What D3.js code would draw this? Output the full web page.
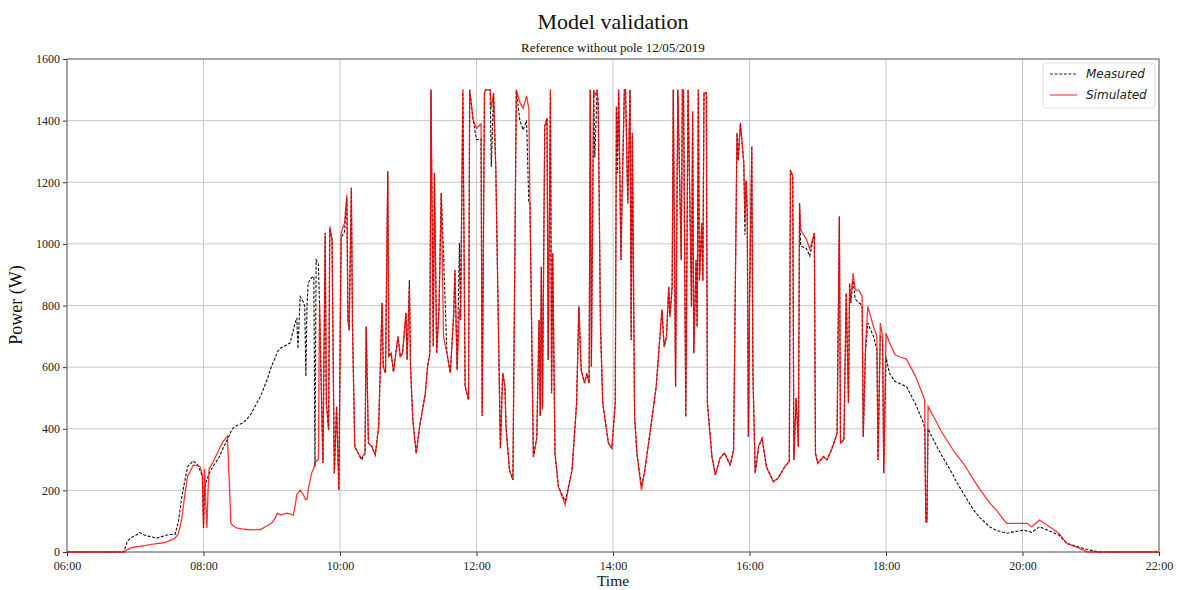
<!DOCTYPE html>
<html>
<head>
<meta charset="utf-8">
<script src="https://cdn.jsdelivr.net/npm/d3@7"></script>
<style>
  body { margin: 0; background: #fff; }
  svg { display: block; }
  .serif { font-family: "Liberation Serif", "DejaVu Serif", serif; }
</style>
</head>
<body>
<svg id="chart" width="1183" height="590"></svg>
<script>
// sample times (HH:MM), measured and simulated power (W)
const times = [
  '06:00','06:50','06:53','06:57','07:01','07:04','07:08','07:13','07:19','07:25','07:30','07:35','07:38','07:41','07:43','07:46','07:51','07:55','07:57','07:59',
  '08:00','08:01','08:02','08:03','08:04','08:05','08:08','08:14','08:17','08:21','08:23','08:24','08:26','08:29','08:34','08:38','08:42','08:50','08:56',
  '09:00','09:03','09:05','09:08','09:13','09:16','09:19','09:21','09:22','09:23','09:25','09:28','09:29','09:30','09:31','09:32','09:35','09:37','09:38','09:39','09:41',
  '09:42','09:45','09:47','09:48','09:50','09:51','09:53','09:55','09:57','09:59',
  '10:01','10:04','10:06','10:07','10:08','10:10','10:11','10:13','10:16','10:19','10:22','10:23','10:25','10:28','10:31','10:34','10:37','10:38','10:40','10:42','10:43','10:45','10:47','10:51','10:53','10:55','10:58','10:59',
  '11:01','11:02','11:04','11:07','11:10','11:15','11:17','11:19','11:20','11:22','11:23','11:25','11:27','11:29','11:31','11:34','11:37','11:40','11:41','11:43','11:45','11:46','11:48','11:50','11:53','11:54','11:57',
  '12:00','12:04','12:05','12:07','12:08','12:12','12:13','12:15','12:17','12:21','12:23','12:25','12:26','12:29','12:32','12:35','12:38','12:41','12:44','12:46','12:47','12:50','12:53','12:55','12:56','12:57','12:58',
  '13:00','13:02','13:03','13:05','13:06','13:07','13:09','13:12','13:18','13:24','13:28','13:30','13:32','13:35','13:37','13:39','13:40','13:41','13:43','13:44','13:46','13:47','13:49','13:51','13:56','13:59',
  '14:02','14:03','14:04','14:05','14:07','14:08','14:10','14:11','14:13','14:15','14:16','14:17','14:19','14:21','14:25','14:28','14:33','14:38','14:43','14:45','14:47','14:49','14:50','14:52','14:53','14:55','14:57',
  '15:00','15:01','15:02','15:04','15:06','15:09','15:10','15:11','15:13','15:14','15:15','15:16','15:18','15:19','15:20','15:22','15:23','15:27','15:30','15:34','15:38','15:43','15:46','15:49','15:50','15:52','15:55','15:56','15:57','15:58','15:59',
  '16:00','16:02','16:03','16:05','16:08','16:11','16:15','16:21','16:25','16:31','16:35','16:36','16:38','16:39','16:41','16:43','16:44','16:45','16:50','16:53','16:57','16:58',
  '17:00','17:05','17:08','17:12','17:17','17:19','17:20','17:23','17:25','17:27','17:28','17:29','17:31','17:33','17:36','17:39','17:40','17:42','17:44','17:49','17:52','17:53','17:55','17:57','17:58',
  '18:00','18:03','18:08','18:13','18:18','18:26','18:33','18:34','18:35','18:36','18:37','18:45','18:48','18:59',
  '19:01','19:08','19:17','19:23','19:31','19:37','19:46',
  '20:01','20:04','20:08','20:15','20:32','20:39','20:54','20:57',
  '21:04','21:06','22:00'
];

const measured = [
  0,0,35,48,55,63,55,50,45,52,57,57,100,180,220,277,296,282,265,245,
  78,200,224,235,245,255,275,310,335,365,380,390,402,410,418,430,450,504,560,
  605,630,650,662,672,678,720,750,760,660,829,810,797,571,800,873,890,894,277,948,935,
  800,289,1035,483,396,1050,1013,256,472,201,
  1020,1040,1150,753,720,1182,731,342,320,299,320,731,354,342,315,407,808,602,581,1235,634,645,585,699,634,645,776,624,
  883,602,429,320,407,515,602,645,1500,667,1230,645,786,1165,970,645,581,776,915,591,1003,753,1500,537,494,1500,1403,
  1338,1340,441,1490,1500,1500,1250,1490,1240,337,581,537,403,266,234,1500,1403,1370,1400,1132,1132,309,370,753,441,926,463,
  1381,1408,623,1500,515,970,320,212,165,266,483,797,591,548,580,548,1500,602,1500,1280,1500,1450,731,483,353,337,
  483,1446,1230,1500,948,1160,1500,1500,1132,1500,688,1359,439,320,215,266,400,537,786,666,699,861,764,861,1500,537,1500,
  948,1500,1500,439,1500,797,1430,645,948,731,1500,880,1067,880,1490,1490,483,309,250,304,321,283,330,1360,1270,1392,1262,1030,1205,1110,374,
  797,1316,580,256,342,369,275,228,239,277,294,1240,1220,299,500,342,1132,993,985,960,1035,320,
  288,310,299,331,385,1089,353,364,840,483,872,808,880,820,810,800,374,650,743,700,656,299,700,690,256,
  634,580,553,545,537,480,418,400,98,98,400,340,320,250,
  234,190,136,110,82,70,61,
  71,68,64,82,55,28,11,8,
  3,0,0
];

const simulated = [
  0,0,8,14,17,18,21,24,27,30,36,45,60,110,170,245,282,280,277,250,
  78,270,160,78,200,270,289,335,358,376,200,94,85,78,75,73,72,73,85,
  94,110,126,120,126,124,120,160,185,191,201,185,175,170,172,200,256,272,285,295,300,
  808,289,1035,483,396,1056,1013,256,472,201,
  1035,1068,1159,753,720,1182,731,342,320,305,320,731,354,342,315,407,808,602,581,1235,634,645,585,699,634,645,776,624,
  860,602,429,320,407,515,602,645,1500,667,1230,645,786,1165,700,645,581,776,915,591,790,753,1500,537,494,1500,1403,
  1375,1390,441,1490,1500,1500,1440,1490,1240,337,581,537,403,266,234,1500,1460,1440,1480,1440,1132,309,370,753,441,926,463,
  1381,1408,623,1500,515,970,320,212,153,266,483,797,591,548,580,548,1500,602,1500,1480,1500,1450,731,483,353,337,
  483,1446,1300,1500,948,1160,1500,1500,1132,1500,688,1359,439,320,201,266,400,537,786,666,699,861,764,861,1500,537,1500,
  948,1500,1500,439,1500,797,1430,645,948,731,1500,880,1067,880,1490,1490,483,309,250,304,321,283,330,1360,1270,1392,1262,1078,1205,1110,374,
  797,1316,580,256,342,369,275,228,239,277,294,1240,1220,299,500,342,1132,1045,1015,983,1035,320,
  288,310,299,331,385,1089,353,364,840,483,872,808,905,850,850,830,374,670,797,732,700,299,743,700,256,
  710,680,640,632,626,570,504,493,98,98,472,418,395,331,
  320,288,235,201,160,136,93,
  93,93,82,104,61,28,6,0,
  0,0,0
];

const xTickLabels = ['06:00','08:00','10:00','12:00','14:00','16:00','18:00','20:00','22:00'];
const yTicks = [0, 200, 400, 600, 800, 1000, 1200, 1400, 1600];
const seriesNames = ['Measured', 'Simulated'];

const parseTime = d3.timeParse('%H:%M');
const fmtTime = d3.timeFormat('%H:%M');

const svg = d3.select('#chart');
const W = 1183, H = 590;
const margin = { top: 59, right: 24, bottom: 38, left: 67 };
const width = W - margin.left - margin.right;
const height = H - margin.top - margin.bottom;

const x = d3.scaleTime()
  .domain([parseTime(xTickLabels[0]), parseTime(xTickLabels[xTickLabels.length - 1])])
  .range([0, width]);

const y = d3.scaleLinear()
  .domain([0, 1600])
  .range([height, 0]);

const g = svg.append('g')
  .attr('transform', `translate(${margin.left},${margin.top})`);

// grid
g.append('g')
  .selectAll('line')
  .data(xTickLabels.map(parseTime))
  .enter().append('line')
  .attr('x1', d => x(d)).attr('x2', d => x(d))
  .attr('y1', 0).attr('y2', height)
  .attr('stroke', '#c8c8c8').attr('stroke-width', 1);

g.append('g')
  .selectAll('line')
  .data(yTicks)
  .enter().append('line')
  .attr('x1', 0).attr('x2', width)
  .attr('y1', d => y(d)).attr('y2', d => y(d))
  .attr('stroke', '#c8c8c8').attr('stroke-width', 1);

// axes
const xAxis = g.append('g')
  .attr('transform', `translate(0,${height})`)
  .call(d3.axisBottom(x).tickValues(xTickLabels.map(parseTime)).tickFormat(fmtTime)
    .tickSize(4).tickPadding(2).tickSizeOuter(0));

const yAxis = g.append('g')
  .call(d3.axisLeft(y).tickValues(yTicks).tickFormat(d3.format('d')).tickSize(4).tickSizeOuter(0));

[xAxis, yAxis].forEach(a => {
  a.select('.domain').remove();
  a.selectAll('line').attr('stroke', '#333');
  a.selectAll('text')
    .attr('class', 'serif')
    .attr('font-size', 12)
    .attr('fill', '#222');
});
// push x labels down so "06:00" clears the "0" of the y axis
xAxis.selectAll('text').attr('dy', '1.03em');

// frame
g.append('rect')
  .attr('width', width).attr('height', height)
  .attr('fill', 'none')
  .attr('stroke', '#666').attr('stroke-width', 1);

// data
const data = times.map((t, i) => ({ t: parseTime(t), m: measured[i], s: simulated[i] }));

const lineM = d3.line().x(d => x(d.t)).y(d => y(d.m));
const lineS = d3.line().x(d => x(d.t)).y(d => y(d.s));

g.append('path')
  .datum(data)
  .attr('fill', 'none')
  .attr('stroke', '#111')
  .attr('stroke-width', 1.1)
  .attr('stroke-dasharray', '3,1.6')
  .attr('d', lineM);

g.append('path')
  .datum(data)
  .attr('fill', 'none')
  .attr('stroke', 'rgba(255,0,0,0.8)')
  .attr('stroke-width', 1.3)
  .attr('d', lineS);

// legend
const lg = svg.append('g').attr('transform', 'translate(1043,63)');
lg.append('rect')
  .attr('width', 112).attr('height', 45).attr('rx', 3)
  .attr('fill', 'rgba(255,255,255,0.85)')
  .attr('stroke', '#ddd');
lg.append('line')
  .attr('x1', 7).attr('x2', 34).attr('y1', 11).attr('y2', 11)
  .attr('stroke', '#222').attr('stroke-width', 1).attr('stroke-dasharray', '3,1.6');
lg.append('line')
  .attr('x1', 7).attr('x2', 34).attr('y1', 32).attr('y2', 32)
  .attr('stroke', 'rgba(255,0,0,0.6)').attr('stroke-width', 1.5);
lg.selectAll('text.lab')
  .data(seriesNames)
  .enter().append('text')
  .attr('x', 43)
  .attr('y', (d, i) => 15 + i * 21)
  .attr('font-family', '"DejaVu Sans", sans-serif')
  .attr('font-style', 'italic')
  .attr('font-size', 12)
  .attr('fill', '#222')
  .text(d => d);

// titles
svg.append('text')
  .attr('class', 'serif')
  .attr('x', 613).attr('y', 29)
  .attr('text-anchor', 'middle')
  .attr('font-size', 22)
  .attr('fill', '#111')
  .text('Model validation');

svg.append('text')
  .attr('class', 'serif')
  .attr('x', 613).attr('y', 52)
  .attr('text-anchor', 'middle')
  .attr('font-size', 13)
  .attr('fill', '#111')
  .text('Reference without pole 12/05/2019');

svg.append('text')
  .attr('class', 'serif')
  .attr('x', 613).attr('y', 585.5)
  .attr('text-anchor', 'middle')
  .attr('font-size', 15.5)
  .attr('fill', '#111')
  .text('Time');

svg.append('text')
  .attr('class', 'serif')
  .attr('transform', 'translate(22,305) rotate(-90)')
  .attr('text-anchor', 'middle')
  .attr('font-size', 18)
  .attr('fill', '#111')
  .text('Power (W)');
</script>
</body>
</html>
